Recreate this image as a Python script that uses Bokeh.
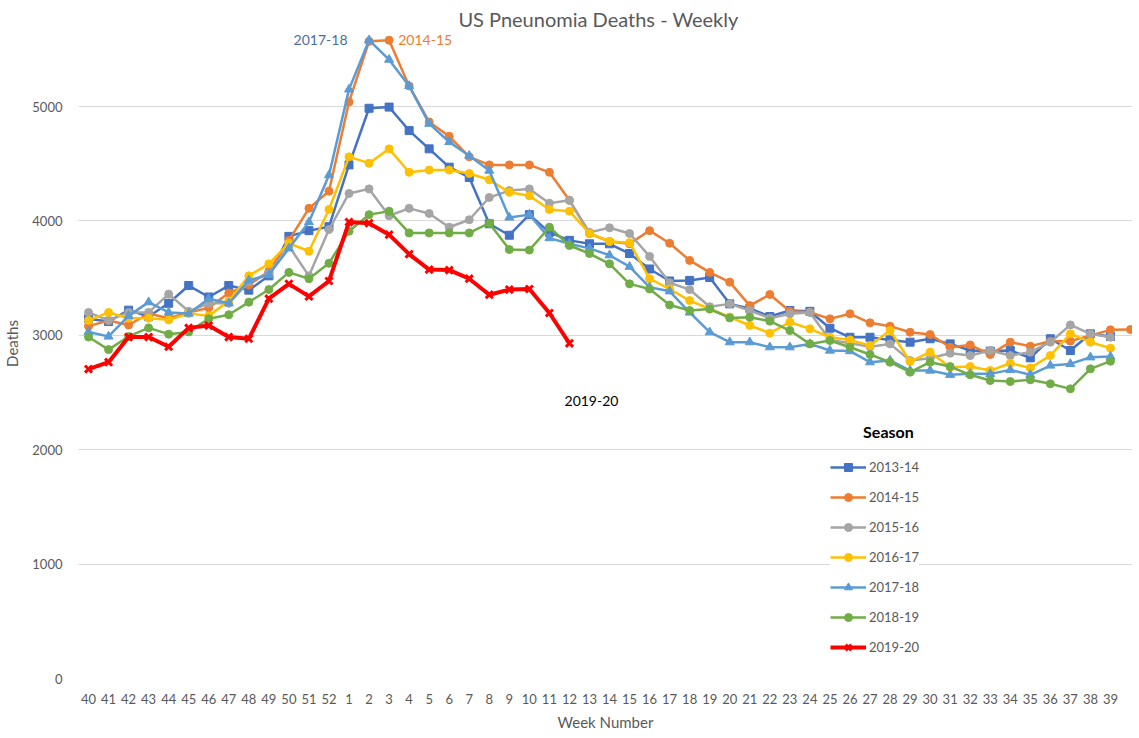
from bokeh.plotting import figure
from bokeh.models import Range1d, FixedTicker, Label, Legend, LegendItem
from bokeh.embed import file_html
from bokeh.resources import INLINE

weeks = ["40", "41", "42", "43", "44", "45", "46", "47", "48", "49", "50", "51", "52",
         "1", "2", "3", "4", "5", "6", "7", "8", "9", "10", "11", "12", "13", "14",
         "15", "16", "17", "18", "19", "20", "21", "22", "23", "24", "25", "26", "27",
         "28", "29", "30", "31", "32", "33", "34", "35", "36", "37", "38", "39", ""]

seasons = ["2013-14", "2014-15", "2015-16", "2016-17", "2017-18", "2018-19", "2019-20"]

s1314 = [3145, 3120, 3220, 3165, 3280, 3435, 3335, 3435, 3395, 3520, 3865, 3915, 3950,
         4490, 4985, 4995, 4790, 4630, 4470, 4380, 3975, 3875, 4055,
         3900, 3830, 3800, 3800, 3715, 3580, 3475, 3480, 3505, 3275,
         3235, 3164, 3217, 3210, 3062, 2983, 2983, 2960, 2940, 2970,
         2925, 2867, 2862, 2867, 2803, 2970, 2867, 3013, 2990]
s1415 = [3080, 3130, 3090, 3190, 3150, 3200, 3240, 3370, 3440, 3560, 3830, 4110, 4260,
         5040, 5570, 5580, 5180, 4865, 4740, 4560, 4490, 4490, 4490,
         4425, 4180, 3890, 3820, 3800, 3915, 3805, 3655, 3550, 3465,
         3260, 3357, 3210, 3202, 3144, 3188, 3109, 3080, 3027, 3007,
         2896, 2916, 2832, 2940, 2905, 2949, 2949, 2998, 3048, 3051]
s1516 = [3200, 3130, 3200, 3200, 3360, 3210, 3280, 3280, 3470, 3540, 3780, 3520, 3925,
         4240, 4280, 4045, 4110, 4065, 3945, 4010, 4205, 4265, 4280,
         4155, 4180, 3900, 3940, 3890, 3690, 3460, 3400, 3250, 3275,
         3217, 3150, 3188, 3200, 2960, 2930, 2900, 2925, 2780, 2800,
         2844, 2823, 2867, 2823, 2853, 2940, 3091, 3013, 2983]
s1617 = [3130, 3200, 3150, 3150, 3135, 3190, 3170, 3300, 3520, 3625, 3805, 3735, 4100,
         4560, 4505, 4630, 4425, 4445, 4445, 4415, 4360, 4250, 4220,
         4100, 4085, 3890, 3820, 3810, 3495, 3405, 3304, 3230, 3160,
         3086, 3019, 3115, 3057, 2983, 2960, 2910, 3042, 2771, 2853,
         2721, 2727, 2692, 2756, 2715, 2823, 3013, 2940, 2888]
s1718 = [3030, 2990, 3170, 3290, 3200, 3190, 3320, 3280, 3480, 3530, 3760, 3990, 4400,
         5150, 5580, 5410, 5180, 4850, 4690, 4570, 4440, 4030, 4055,
         3850, 3800, 3760, 3700, 3600, 3420, 3385, 3200, 3027, 2940,
         2940, 2896, 2896, 2925, 2867, 2862, 2765, 2780, 2692, 2692,
         2655, 2663, 2663, 2698, 2655, 2736, 2750, 2808, 2814]
s1819 = [2985, 2875, 2990, 3065, 3010, 3030, 3145, 3180, 3290, 3400, 3550, 3495, 3630,
         3910, 4055, 4085, 3895, 3895, 3895, 3895, 3980, 3750, 3745,
         3945, 3785, 3715, 3625, 3450, 3405, 3265, 3217, 3230, 3152,
         3158, 3124, 3042, 2925, 2954, 2896, 2832, 2765, 2678, 2765,
         2727, 2655, 2605, 2596, 2611, 2576, 2532, 2707, 2774]
s1920 = [2705, 2765, 2985, 2985, 2900, 3065, 3085, 2985, 2970, 3320, 3450, 3340, 3475,
         3990, 3980, 3880, 3710, 3575, 3570, 3495, 3355, 3400, 3405, 3195, 2930]

series = [s1314, s1415, s1516, s1617, s1718, s1819, s1920]
colors = ["#4472C4", "#ED7D31", "#A5A5A5", "#FFC000", "#5B9BD5", "#70AD47", "#FF0000"]
markers = ["square", "circle", "circle", "circle", "triangle", "circle", "x"]
msizes = [8, 8, 8, 8, 9, 8, 10]
lwidths = [2.5, 2.5, 2.5, 2.5, 2.5, 2.5, 4]

FONT = "Lato"
GREY = "#595959"

p = figure(frame_width=1054, frame_height=670, output_backend="svg", toolbar_location=None,
           x_range=Range1d(-0.5, 52.1), y_range=Range1d(0, 5857),
           min_border_left=78, min_border_right=0, min_border_top=8, min_border_bottom=52)
p.outline_line_color = None
p.background_fill_color = "white"
p.border_fill_color = "white"
p.xgrid.grid_line_color = None
p.ygrid.grid_line_color = "#D9D9D9"
p.ygrid.grid_line_width = 1

p.yaxis.ticker = FixedTicker(ticks=[0, 1000, 2000, 3000, 4000, 5000])
p.xaxis.ticker = FixedTicker(ticks=list(range(len(weeks))))
p.xaxis.major_label_overrides = {i: w for i, w in enumerate(weeks)}
for ax in (p.xaxis, p.yaxis):
    ax.axis_line_color = None
    ax.major_tick_line_color = None
    ax.minor_tick_line_color = None
    ax.major_label_text_font = FONT
    ax.major_label_text_font_size = "13px"
    ax.major_label_text_color = GREY
    ax.axis_label_text_font = FONT
    ax.axis_label_text_font_size = "15px"
    ax.axis_label_text_color = GREY
    ax.axis_label_text_font_style = "normal"
p.xaxis.axis_label = "Week Number"
p.yaxis.axis_label = "Deaths"
p.xaxis.major_label_standoff = 9
p.xaxis.axis_label_standoff = 6
p.yaxis.major_label_standoff = 10
p.yaxis.axis_label_standoff = 8

items = []
for name, vals, c, m, ms, lw in zip(seasons, series, colors, markers, msizes, lwidths):
    xs = list(range(len(vals)))
    r1 = p.line(xs, vals, line_color=c, line_width=lw)
    if m == "x":
        r2 = p.scatter(xs, vals, marker=m, size=ms, line_color=c, line_width=3)
    else:
        r2 = p.scatter(xs, vals, marker=m, size=ms, fill_color=c, line_color=c, line_width=1)
    items.append(LegendItem(label=name, renderers=[r1, r2]))

legend = Legend(items=items, location=(752, 21), orientation="vertical",
                background_fill_color="white", background_fill_alpha=1.0,
                border_line_color=None, label_text_font=FONT, label_text_font_size="13px",
                label_text_color=GREY, glyph_width=36, glyph_height=20, label_height=20,
                spacing=10, padding=5, label_standoff=3, margin=0)
p.add_layout(legend, "center")

p.add_layout(Label(x=39.92, y=2155, text="Season", text_font=FONT,
                   text_font_size="16px", text_font_style="bold", text_color="black",
                   text_align="center", text_baseline="middle",
                   background_fill_color="white"))

p.add_layout(Label(x=25.45, y=5769, text="US Pneunomia Deaths - Weekly", text_font=FONT,
                   text_font_size="20px", text_color=GREY,
                   text_align="center", text_baseline="middle"))
p.add_layout(Label(x=11.58, y=5586, text="2017-18", text_font=FONT,
                   text_font_size="14px", text_color="#4A6E9E",
                   text_align="center", text_baseline="middle"))
p.add_layout(Label(x=16.8, y=5586, text="2014-15", text_font=FONT,
                   text_font_size="14px", text_color="#ED7D31",
                   text_align="center", text_baseline="middle"))
p.add_layout(Label(x=25.1, y=2430, text="2019-20", text_font=FONT,
                   text_font_size="14px", text_color="black",
                   text_align="center", text_baseline="middle"))

open("out.html", "w").write(file_html(p, INLINE))
